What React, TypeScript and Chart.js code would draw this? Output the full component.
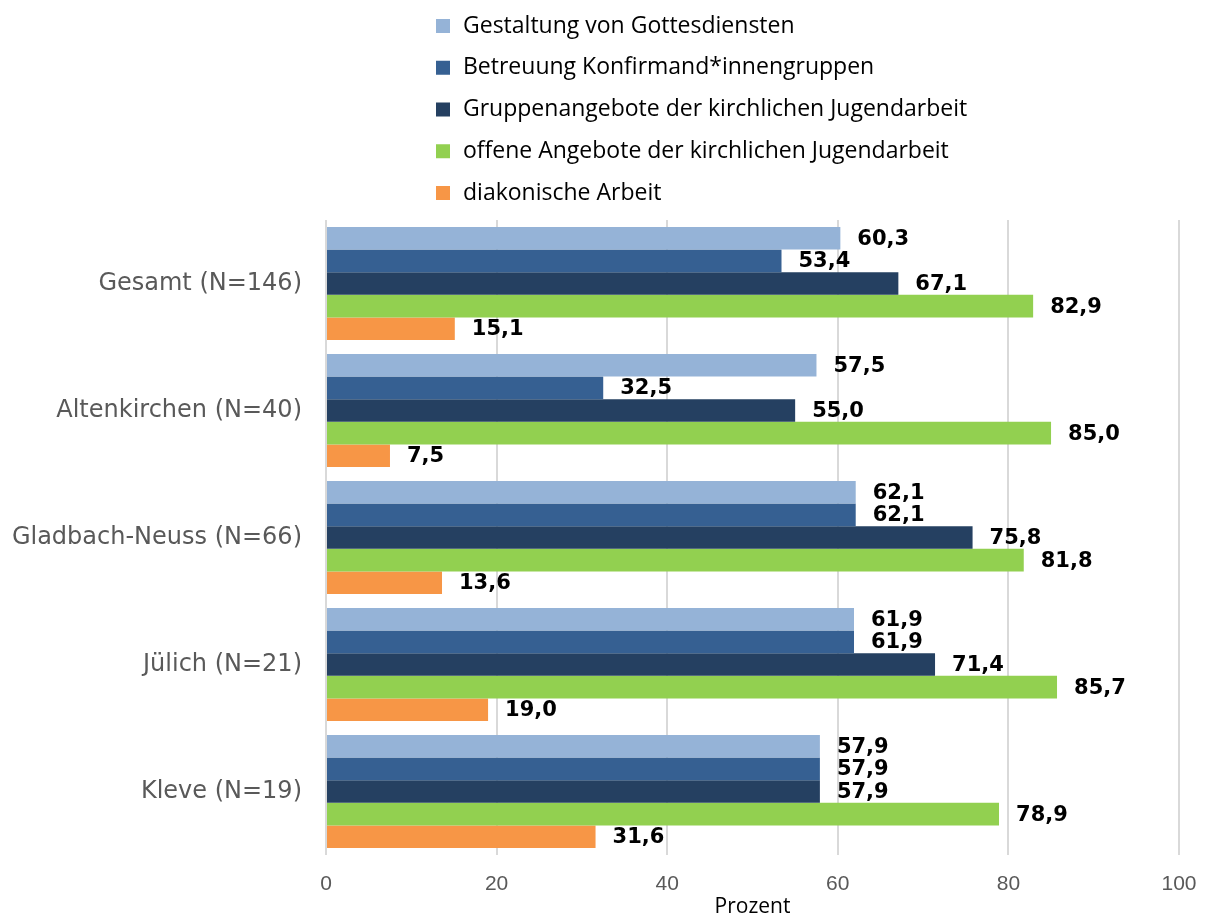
import React, { useEffect, useRef } from "react";
import { Chart, registerables } from "chart.js";

Chart.register(...registerables);

const categories = [
  "Gesamt (N=146)",
  "Altenkirchen (N=40)",
  "Gladbach-Neuss (N=66)",
  "Jülich (N=21)",
  "Kleve (N=19)",
];
const seriesNames = [
  "Gestaltung von Gottesdiensten",
  "Betreuung Konfirmand*innengruppen",
  "Gruppenangebote der kirchlichen Jugendarbeit",
  "offene Angebote der kirchlichen Jugendarbeit",
  "diakonische Arbeit",
];
const gottesdienste = [60.3, 57.5, 62.1, 61.9, 57.9];
const konfirmanden = [53.4, 32.5, 62.1, 61.9, 57.9];
const gruppenangebote = [67.1, 55.0, 75.8, 71.4, 57.9];
const offeneAngebote = [82.9, 85.0, 81.8, 85.7, 78.9];
const diakonie = [15.1, 7.5, 13.6, 19.0, 31.6];
const xTicks = [0, 20, 40, 60, 80, 100];
const xTitle = "Prozent";

const colors = ["#95B3D7", "#366092", "#254061", "#92D050", "#F79646"];

const valueLabels = {
  id: "valueLabels",
  afterDatasetsDraw(chart: any) {
    const ctx = chart.ctx;
    ctx.save();
    ctx.font = "bold 21px 'DejaVu Sans'";
    ctx.fillStyle = "#000000";
    ctx.textAlign = "left";
    ctx.textBaseline = "middle";
    chart.data.datasets.forEach((ds: any, i: number) => {
      const meta = chart.getDatasetMeta(i);
      meta.data.forEach((bar: any, j: number) => {
        const v = ds.data[j] as number;
        ctx.fillText(v.toFixed(1).replace(".", ","), bar.x + 17, bar.y + 1);
      });
    });
    ctx.restore();
  },
};

const customLegend = {
  id: "customLegend",
  afterDraw(chart: any) {
    const ctx = chart.ctx;
    ctx.save();
    ctx.font = "23px 'Open Sans'";
    ctx.textBaseline = "middle";
    ctx.textAlign = "left";
    chart.data.datasets.forEach((ds: any, i: number) => {
      const y = 25 + i * 41.75;
      ctx.fillStyle = ds.backgroundColor;
      ctx.fillRect(436, y - 6, 14, 14);
      ctx.fillStyle = "#000000";
      ctx.fillText(ds.label, 463, y + 1);
    });
    ctx.restore();
  },
};

export default function App() {
  const ref = useRef<HTMLCanvasElement>(null);
  useEffect(() => {
    if (!ref.current) return;
    const seriesData = [gottesdienste, konfirmanden, gruppenangebote, offeneAngebote, diakonie];
    const chart = new Chart(ref.current, {
      type: "bar",
      data: {
        labels: categories,
        datasets: seriesData.map((d, i) => ({
          label: seriesNames[i],
          data: d,
          backgroundColor: colors[i],
          borderWidth: 0,
          categoryPercentage: 0.89,
          barPercentage: 1.0,
        })),
      },
      options: {
        indexAxis: "y",
        animation: false,
        responsive: false,
        maintainAspectRatio: false,
        layout: { padding: { top: 220, right: 28, bottom: 0, left: 0 } },
        plugins: {
          legend: { display: false },
          tooltip: { enabled: false },
        },
        scales: {
          x: {
            min: 0,
            max: 100,
            afterBuildTicks(scale: any) {
              scale.ticks = xTicks.map((v) => ({ value: v }));
            },
            afterFit(scale: any) {
              scale.height = 65;
              scale.paddingRight = 0;
              scale.paddingLeft = 0;
            },
            grid: { color: "#D9D9D9", lineWidth: 2, drawTicks: false },
            border: { display: false },
            ticks: {
              color: "#595959",
              font: { family: "'Liberation Sans'", size: 21 },
              padding: 17,
            },
            title: {
              display: true,
              text: xTitle,
              color: "#000000",
              font: { family: "'Open Sans'", size: 21 },
              padding: { top: 0, bottom: 0 },
            },
          },
          y: {
            afterFit(scale: any) {
              scale.width = 326;
            },
            grid: { display: false },
            border: { display: false },
            ticks: {
              color: "#595959",
              font: { family: "'DejaVu Sans'", size: 24 },
              padding: 16,
            },
          },
        },
      },
      plugins: [valueLabels, customLegend],
    });
    return () => chart.destroy();
  }, []);
  return (
    <div style={{ position: "fixed", left: 0, top: 0, width: 1207, height: 920, background: "#fff" }}>
      <canvas ref={ref} width={1207} height={920} />
    </div>
  );
}
